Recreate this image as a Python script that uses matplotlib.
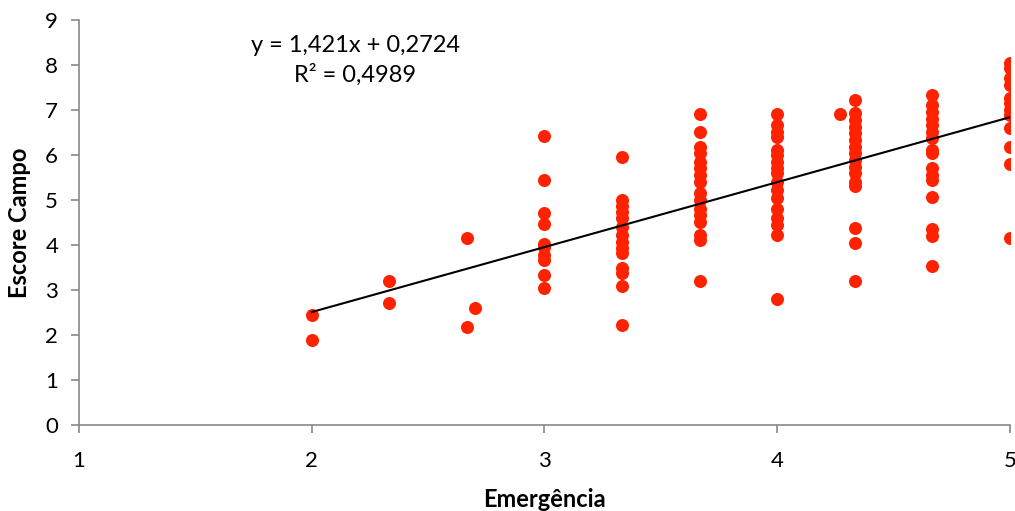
import numpy as np
import matplotlib
matplotlib.use("Agg")
import matplotlib.pyplot as plt

plt.rcParams['font.family'] = ['Lato', 'DejaVu Sans']

# pontos por nível de emergência
x_levels = [2.0, 2.333, 2.667, 2.7, 3.0, 3.333, 3.667, 4.0, 4.27, 4.333, 4.667, 5.0]
y_groups = [
    [2.45, 1.88],
    [3.2, 2.72],
    [4.15, 2.17],
    [2.6],
    [6.43, 5.44, 4.72, 4.46, 4.02, 3.95, 3.78, 3.67, 3.34, 3.04],
    [5.96, 5.01, 4.87, 4.74, 4.59, 4.4, 4.22, 4.07, 3.93, 3.82, 3.48, 3.37, 3.08, 2.22],
    [6.9, 6.52, 6.18, 6.04, 5.85, 5.70, 5.56, 5.4, 5.15, 5.0, 4.81, 4.67, 4.52, 4.22, 4.11, 3.2],
    [6.9, 6.67, 6.52, 6.41, 6.11, 6.0, 5.85, 5.70, 5.59, 5.41, 5.22, 5.04, 4.81, 4.59, 4.44, 4.22, 2.8],
    [6.9],
    [7.22, 6.93, 6.78, 6.63, 6.48, 6.33, 6.18, 6.04, 5.89, 5.74, 5.59, 5.41, 5.30, 4.38, 4.05, 3.2],
    [7.33, 7.11, 6.96, 6.81, 6.67, 6.52, 6.37, 6.11, 6.04, 5.70, 5.56, 5.44, 5.07, 4.35, 4.2, 3.53],
    [8.05, 7.94, 7.70, 7.56, 7.26, 7.15, 7.0, 6.89, 6.59, 6.18, 5.8, 4.16],
]
# linha de tendência como aparece no gráfico
trend_x = [2.0, 5.0]
trend_y = [2.51, 6.84]
x_ticks = [1, 2, 3, 4, 5]
y_ticks = list(range(10))
eq_text = "y = 1,421x + 0,2724"
r2_text = "R² = 0,4989"

xs = np.concatenate([[x] * len(g) for x, g in zip(x_levels, y_groups)])
ys = np.concatenate(y_groups)

fig = plt.figure(figsize=(10.15, 5.11), dpi=100)
ax = fig.add_axes([79 / 1015, 1 - 425 / 511, 931 / 1015, 405 / 511])

ax.scatter(xs, ys, s=88, color='#FF2200', zorder=3, linewidths=0)
ax.plot(trend_x, trend_y, color='black', lw=1.5, zorder=4)

ax.text(2.186, 8.44, eq_text, ha='center', va='center', fontsize=17)
ax.text(2.186, 7.78, r2_text, ha='center', va='center', fontsize=17)

ax.set_xlim(1, 5)
ax.set_ylim(0, 9)
ax.set_xticks(x_ticks)
ax.set_yticks(y_ticks)
ax.tick_params(labelsize=16, color='#888888', length=6, width=1.2)
ax.tick_params(axis='x', pad=13)
ax.tick_params(axis='y', pad=9)
for s in ['top', 'right']:
    ax.spines[s].set_visible(False)
for s in ['left', 'bottom']:
    ax.spines[s].set_color('#888888')
    ax.spines[s].set_linewidth(1.2)
ax.set_xlabel('Emergência', fontsize=17, fontweight='bold', labelpad=12)
ax.set_ylabel('Escore Campo', fontsize=17, fontweight='bold', labelpad=10)

fig.savefig('out.png', dpi=100)
